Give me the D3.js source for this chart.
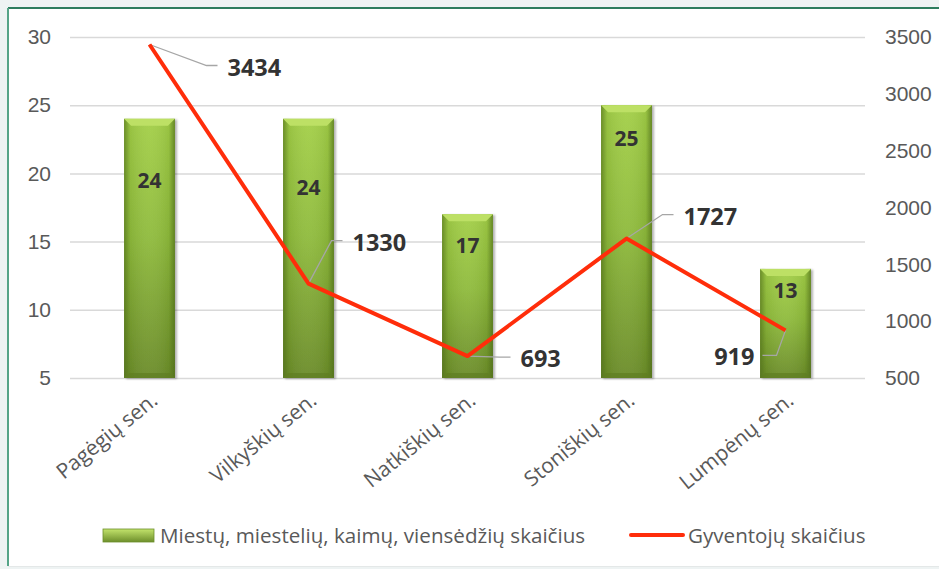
<!DOCTYPE html>
<html>
<head>
<meta charset="utf-8">
<script src="https://cdn.jsdelivr.net/npm/d3@7/dist/d3.min.js"></script>
<style>
  html, body { margin: 0; padding: 0; background: #eef3f3; }
  svg { display: block; font-family: "Open Sans", "Noto Sans", sans-serif; }
</style>
</head>
<body>
<div id="chart"></div>
<script>
// data
const categories = ["Pagėgių sen.", "Vilkyškių sen.", "Natkiškių sen.", "Stoniškių sen.", "Lumpėnų sen."];
const settlements = [24, 24, 17, 25, 13];
const population = [3434, 1330, 693, 1727, 919];
const leftTicks = [5, 10, 15, 20, 25, 30];
const rightTicks = [500, 1000, 1500, 2000, 2500, 3000, 3500];
const seriesNames = ["Miestų, miestelių, kaimų, viensėdžių skaičius", "Gyventojų skaičius"];

// manual label placement (pixels), like the original chart
const barLabelDy = [62, 69, 31, 33, 22];
const popLabelOffset = [[78, 23, "start"], [44, -41, "start"], [53, 3, "start"], [57, -22, "start"], [-31, 26, "end"]];

const W = 939, H = 569;
const plot = { left: 70, right: 865, top: 37, bottom: 378 };

const svg = d3.select("#chart").append("svg")
  .attr("width", W)
  .attr("height", H);

// frame
svg.append("rect").attr("x", 8).attr("y", 8).attr("width", W - 8).attr("height", 558).attr("fill", "#fff");
svg.append("line").attr("x1", 8).attr("x2", W).attr("y1", 8).attr("y2", 8)
  .attr("stroke", "#2d7d5e").attr("stroke-width", 2);
svg.append("line").attr("x1", 8).attr("x2", 8).attr("y1", 8).attr("y2", 566)
  .attr("stroke", "#55a487").attr("stroke-width", 2);
svg.append("line").attr("x1", 8).attr("x2", W).attr("y1", 566.5).attr("y2", 566.5)
  .attr("stroke", "#e4e8e8").attr("stroke-width", 1);

const defs = svg.append("defs");
const gBody = defs.append("linearGradient").attr("id", "barBody").attr("x1", 0).attr("x2", 0).attr("y1", 0).attr("y2", 1);
gBody.append("stop").attr("offset", "0%").attr("stop-color", "#a3cf48");
gBody.append("stop").attr("offset", "45%").attr("stop-color", "#8fbb3c");
gBody.append("stop").attr("offset", "100%").attr("stop-color", "#6a8b29");
const gSide = defs.append("linearGradient").attr("id", "barSide").attr("x1", 0).attr("x2", 1).attr("y1", 0).attr("y2", 0);
gSide.append("stop").attr("offset", "0%").attr("stop-color", "#4c6a18").attr("stop-opacity", 0.65);
gSide.append("stop").attr("offset", "12%").attr("stop-color", "#4c6a18").attr("stop-opacity", 0.12);
gSide.append("stop").attr("offset", "50%").attr("stop-color", "#ffffff").attr("stop-opacity", 0.05);
gSide.append("stop").attr("offset", "88%").attr("stop-color", "#4c6a18").attr("stop-opacity", 0.12);
gSide.append("stop").attr("offset", "100%").attr("stop-color", "#4c6a18").attr("stop-opacity", 0.7);
const gLeg = defs.append("linearGradient").attr("id", "legBar").attr("x1", 0).attr("x2", 0).attr("y1", 0).attr("y2", 1);
gLeg.append("stop").attr("offset", "0%").attr("stop-color", "#c3e36c");
gLeg.append("stop").attr("offset", "100%").attr("stop-color", "#6d8f2b");
const shadow = defs.append("filter").attr("id", "shadow").attr("x", "-20%").attr("y", "-5%").attr("width", "150%").attr("height", "115%");
shadow.append("feDropShadow").attr("dx", 2).attr("dy", 1).attr("stdDeviation", 1.2)
  .attr("flood-color", "#000").attr("flood-opacity", 0.3);

const x = d3.scaleBand()
  .domain(categories)
  .range([plot.left, plot.right])
  .paddingInner(0.68)
  .paddingOuter(0.34);

const yL = d3.scaleLinear().domain([5, 30]).range([plot.bottom, plot.top]);
const yR = d3.scaleLinear().domain([500, 3500]).range([plot.bottom, plot.top]);

// gridlines
const grid = svg.append("g")
  .attr("transform", `translate(${plot.left},0)`)
  .call(d3.axisLeft(yL).tickValues(leftTicks).tickSize(-(plot.right - plot.left)).tickFormat(""));
grid.select(".domain").remove();
grid.selectAll("line").attr("stroke", "#d9d9d9").attr("stroke-width", 1.5);

// left axis
const axL = svg.append("g")
  .attr("transform", "translate(51,0)")
  .call(d3.axisLeft(yL).tickValues(leftTicks).tickSize(0).tickPadding(0));
axL.select(".domain").remove();
axL.selectAll("text").attr("fill", "#595959").style("font-size", "21px").style("font-family", "inherit");

// right axis
const axR = svg.append("g")
  .attr("transform", "translate(885,0)")
  .call(d3.axisRight(yR).tickValues(rightTicks).tickSize(0).tickPadding(0).tickFormat(d3.format("d")));
axR.select(".domain").remove();
axR.selectAll("text").attr("fill", "#595959").style("font-size", "21px").style("font-family", "inherit");

// category labels
svg.append("g").selectAll("text")
  .data(categories)
  .enter()
  .append("text")
  .attr("transform", d => `translate(${x(d) + x.bandwidth() / 2 + 5},${plot.bottom + 19}) rotate(-39)`)
  .attr("text-anchor", "end")
  .attr("dy", "0.35em")
  .attr("fill", "#595959")
  .style("font-size", "21px")
  .text(d => d);

// bars
const bw = x.bandwidth();
const bars = svg.append("g").selectAll("g")
  .data(categories)
  .enter()
  .append("g")
  .attr("filter", "url(#shadow)");

bars.append("rect")
  .attr("x", d => x(d))
  .attr("y", (d, i) => yL(settlements[i]))
  .attr("width", bw)
  .attr("height", (d, i) => yL(5) - yL(settlements[i]))
  .attr("fill", "url(#barBody)");
bars.append("rect")
  .attr("x", d => x(d))
  .attr("y", (d, i) => yL(settlements[i]))
  .attr("width", bw)
  .attr("height", (d, i) => yL(5) - yL(settlements[i]))
  .attr("fill", "url(#barSide)");
// top bevel
bars.append("path")
  .attr("d", (d, i) => {
    const x0 = x(d), y0 = yL(settlements[i]), b = 7;
    return `M${x0},${y0}H${x0 + bw}L${x0 + bw - b},${y0 + b}H${x0 + b}Z`;
  })
  .attr("fill", "#bde065");
// bottom bevel
bars.append("path")
  .attr("d", (d, i) => {
    const x0 = x(d), y0 = yL(5), b = 5;
    return `M${x0},${y0}H${x0 + bw}L${x0 + bw - b},${y0 - b}H${x0 + b}Z`;
  })
  .attr("fill", "#5f7d22")
  .attr("opacity", 0.7);

// bar value labels
svg.append("g").selectAll("text")
  .data(settlements)
  .enter()
  .append("text")
  .attr("x", (d, i) => x(categories[i]) + bw / 2)
  .attr("y", (d, i) => yL(d) + barLabelDy[i])
  .attr("dy", "0.35em")
  .attr("text-anchor", "middle")
  .attr("fill", "#333")
  .style("font-size", "21px")
  .style("font-weight", "bold")
  .text(d => d);

// population line
const line = d3.line()
  .x((d, i) => x(categories[i]) + bw / 2)
  .y(d => yR(d));

// leader lines
const pts = population.map((d, i) => {
  const px = x(categories[i]) + bw / 2, py = yR(d);
  const o = popLabelOffset[i];
  return { v: d, px, py, lx: px + o[0], ly: py + o[1], anchor: o[2] };
});

svg.append("g").selectAll("path")
  .data(pts)
  .enter()
  .append("path")
  .attr("d", p => p.anchor === "start"
    ? `M${p.px},${p.py}L${p.lx - 21},${p.ly - 2}H${p.lx - 10}`
    : `M${p.px},${p.py}L${p.lx + 22},${p.ly - 1}H${p.lx + 8}`)
  .attr("fill", "none")
  .attr("stroke", "#a6a6a6")
  .attr("stroke-width", 1.3);

svg.append("path")
  .datum(population)
  .attr("d", line)
  .attr("fill", "none")
  .attr("stroke", "#ff2d0a")
  .attr("stroke-width", 4)
  .attr("stroke-linejoin", "round");

svg.append("g").selectAll("text")
  .data(pts)
  .enter()
  .append("text")
  .attr("x", p => p.lx)
  .attr("y", p => p.ly)
  .attr("dy", "0.35em")
  .attr("text-anchor", p => p.anchor)
  .attr("fill", "#333")
  .style("font-size", "23.5px")
  .style("font-weight", "bold")
  .text(p => p.v);

// legend
const leg = svg.append("g");
leg.append("rect")
  .attr("x", 103).attr("y", 529).attr("width", 51).attr("height", 13)
  .attr("fill", "url(#legBar)").attr("stroke", "#6d8f2b").attr("stroke-width", 0.8);
leg.append("text")
  .attr("x", 160).attr("y", 536).attr("dy", "0.35em")
  .attr("fill", "#595959").style("font-size", "20.6px")
  .text(seriesNames[0]);
leg.append("line")
  .attr("x1", 631).attr("x2", 683).attr("y1", 535).attr("y2", 535)
  .attr("stroke", "#ff2d0a").attr("stroke-width", 4).attr("stroke-linecap", "round");
leg.append("text")
  .attr("x", 688).attr("y", 536).attr("dy", "0.35em")
  .attr("fill", "#595959").style("font-size", "20.6px")
  .text(seriesNames[1]);
</script>
</body>
</html>
